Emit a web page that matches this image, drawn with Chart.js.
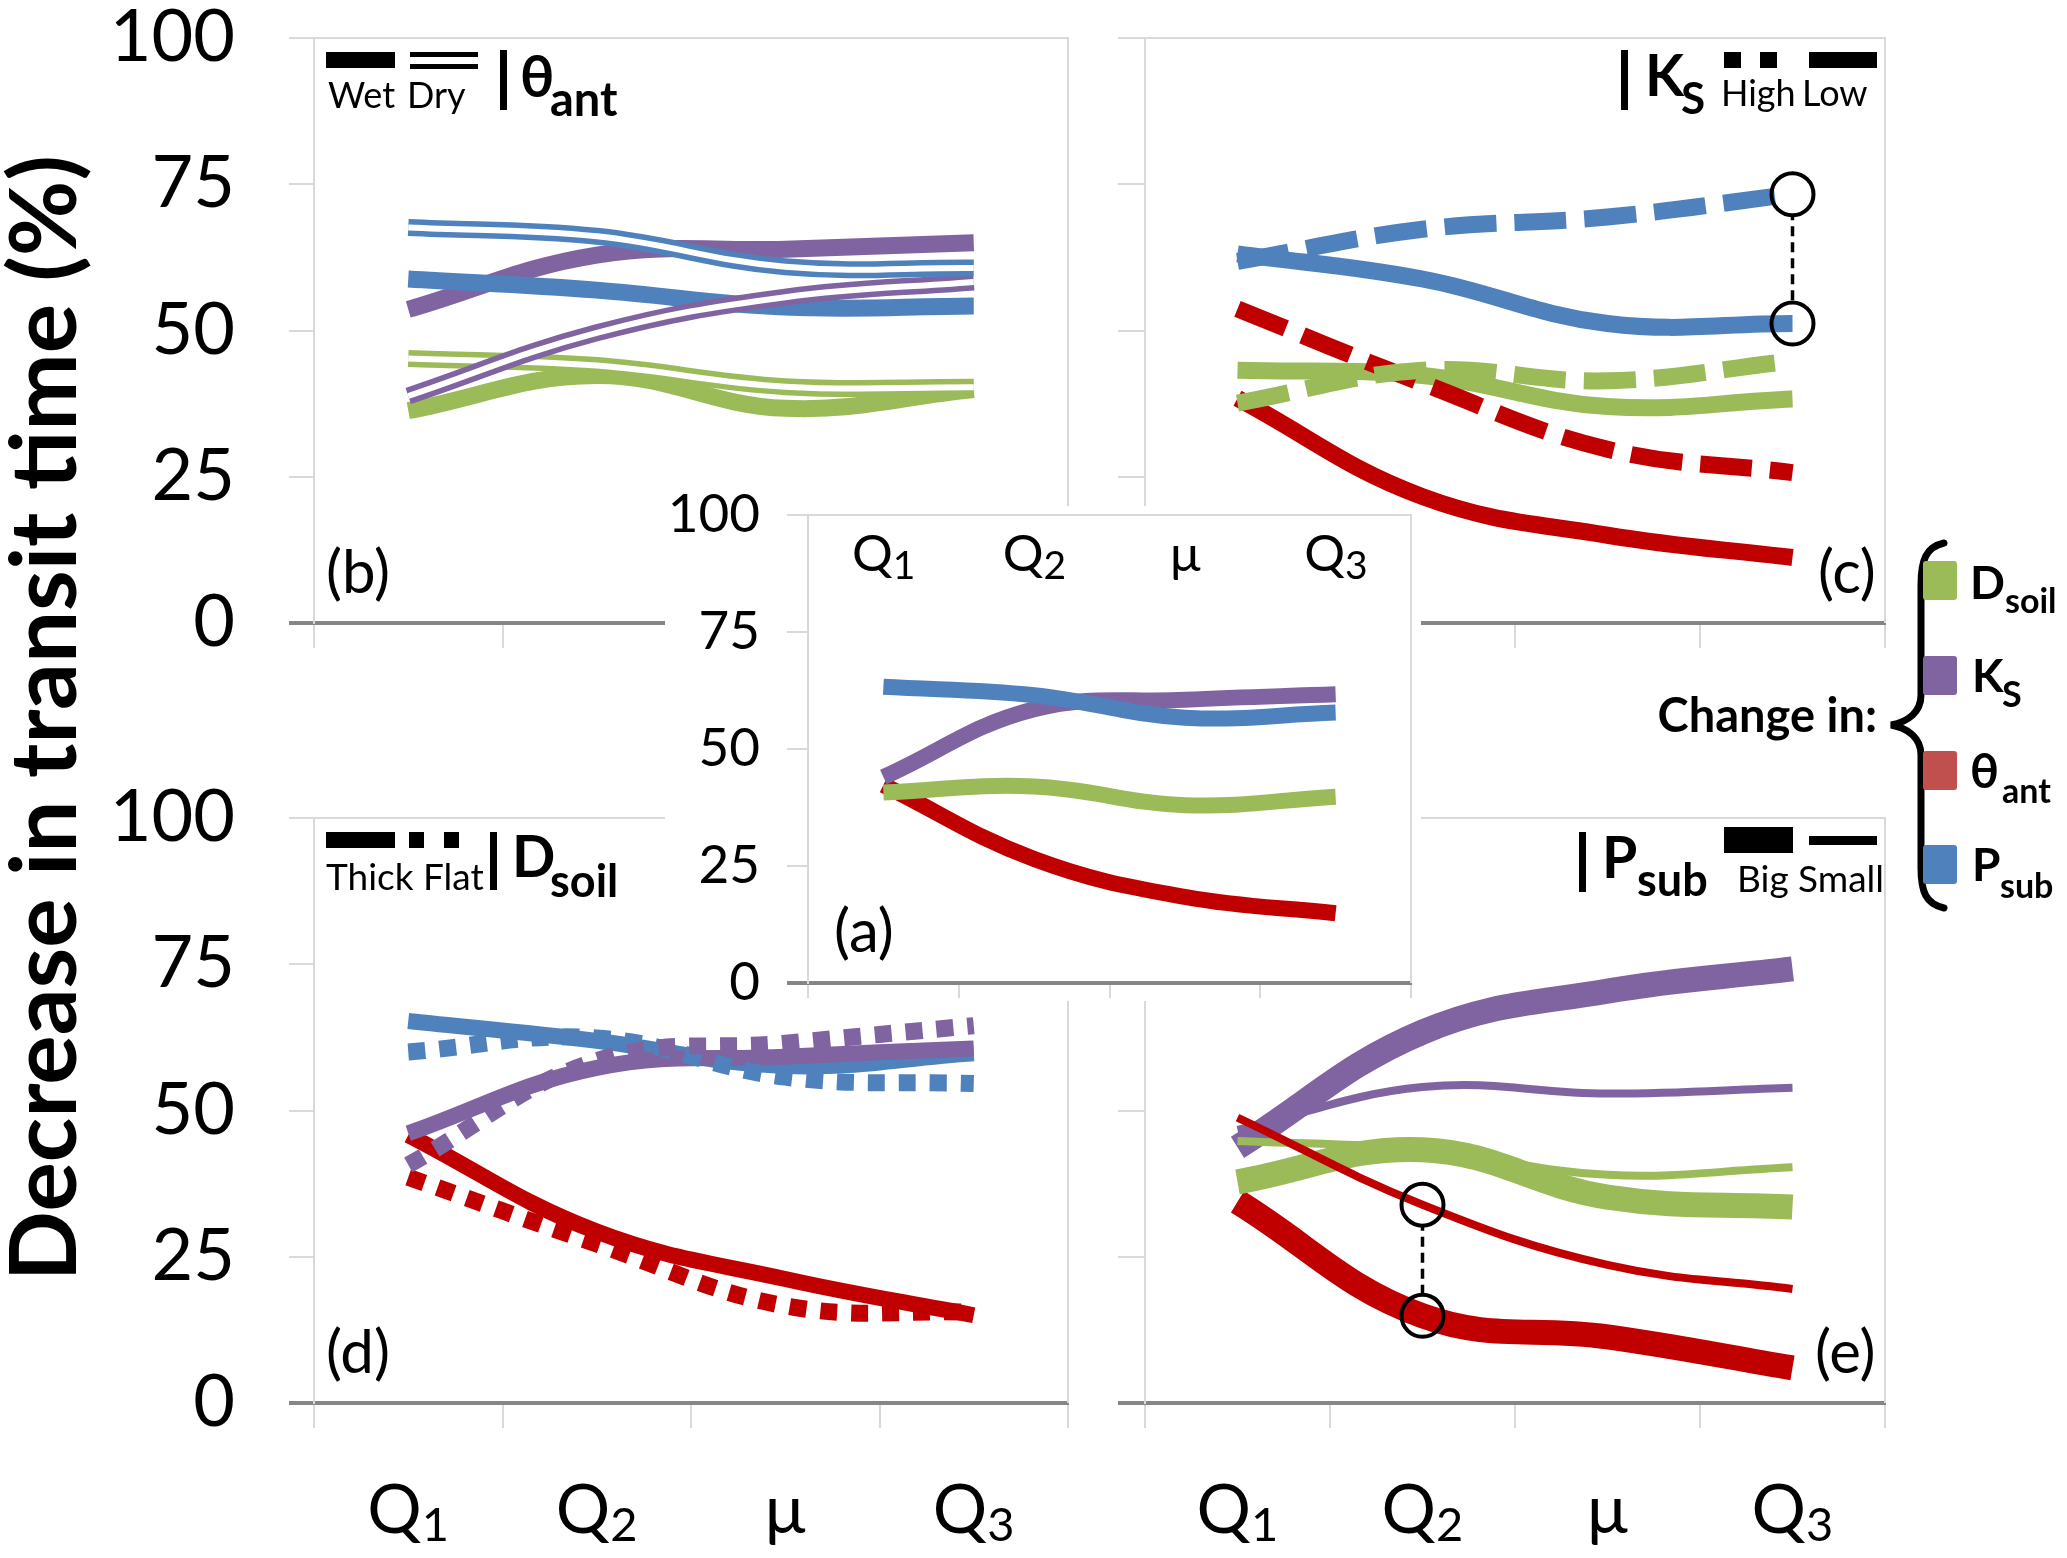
<!DOCTYPE html>
<html>
<head>
<meta charset="utf-8">
<script src="https://cdn.jsdelivr.net/npm/chart.js"></script>
<style>
  html, body { margin: 0; padding: 0; background: #fff; }
  #fig { position: relative; width: 2067px; height: 1558px; overflow: hidden; background: #fff;
         font-family: Lato, "Noto Sans", sans-serif; color: #000; }
  #fig canvas { position: absolute; }
  .t { position: absolute; line-height: 1; white-space: nowrap; }
  .blk { position: absolute; background: #000; }
  .sw { position: absolute; width: 34px; height: 39px; border-radius: 3px; }
  #whiteBox { position: absolute; left: 665px; top: 506px; width: 756px; height: 495px; background: #fff; }
</style>
</head>
<body>
<div id="fig">
  <canvas id="chartB"></canvas>
  <canvas id="chartC"></canvas>
  <canvas id="chartD"></canvas>
  <canvas id="chartE"></canvas>
  <div id="whiteBox"></div>
  <canvas id="chartA"></canvas>
  <svg width="2067" height="1558" style="position:absolute;left:0;top:0;pointer-events:none">
    <path d="M1944,543 C1926,547 1921,560 1921,585 L1921,695 C1921,712 1908,722 1891,725 C1908,728 1921,738 1921,755 L1921,868 C1921,892 1926,904 1944,908"
          fill="none" stroke="#000" stroke-width="7" stroke-linecap="round"/>
  </svg>
</div>
<script>
// categories on every x axis (first letter normal, rest written as subscript)
const CATS = ['Q1', 'Q2', '\u03bc', 'Q3'];
const Y_MIN = 0, Y_MAX = 100, Y_STEP = 25;

// (a) reference case
const aDsoil = [40.7, 42.0, 38.0, 39.8];
const aKs    = [44.0, 58.5, 60.5, 61.7];
const aTheta = [42.3, 26.5, 18.4, 14.9];
const aPsub  = [63.3, 61.5, 56.7, 57.8];

// (b) theta_ant: wet (thick) / dry (double)
const bWetDsoil = [36.3, 42.3, 36.7, 39.9];
const bDryDsoil = [45.2, 44.0, 40.4, 40.3];
const bWetKs    = [53.6, 62.9, 63.9, 65.0];
const bDryKs    = [38.8, 49.6, 55.7, 58.3];
const bWetPsub  = [58.8, 56.9, 54.0, 54.2];
const bDryPsub  = [67.6, 66.1, 60.9, 60.7];

// (c) Ks: high (dashed) / low (solid)
const cHighDsoil = [37.6, 43.2, 41.4, 44.8];
const cLowDsoil  = [43.2, 42.3, 37.0, 38.3];
const cHighTheta = [53.7, 41.0, 29.7, 25.7];
const cLowTheta  = [38.4, 21.6, 15.0, 11.2];
const cHighPsub  = [61.8, 67.3, 69.4, 73.3];
const cLowPsub   = [63.1, 58.8, 51.2, 51.2];

// (d) Dsoil: thick (solid) / flat (dotted)
const dThickKs    = [46.1, 57.3, 59.2, 60.6];
const dFlatKs     = [40.7, 58.5, 61.5, 64.5];
const dThickTheta = [45.8, 29.3, 21.2, 15.0];
const dFlatTheta  = [38.6, 27.2, 16.6, 15.5];
const dThickPsub  = [65.3, 61.9, 57.6, 59.8];
const dFlatPsub   = [60.0, 62.4, 55.7, 54.6];

// (e) Psub: big (thick) / small (thin)
const eBigDsoil   = [37.8, 43.3, 35.2, 33.5];
const eSmallDsoil = [44.8, 43.3, 39.0, 40.3];
const eBigKs      = [43.7, 63.4, 70.4, 74.2];
const eSmallKs    = [46.7, 54.0, 52.9, 53.9];
const eBigTheta   = [34.4, 14.9, 11.3, 6.0];
const eSmallTheta = [48.8, 33.9, 23.6, 19.5];

const GREEN = '#9BBB59', PURPLE = '#8064A2', RED = '#C00000', BLUE = '#4F81BD';
const GRID = '#D9D9D9', AXIS = '#868686';
const FONT = 'Lato, "Noto Sans", sans-serif';

const line = (data, color, width, dash) => ({
  data, borderColor: color, borderWidth: width, borderDash: dash || [], pointRadius: 0
});
const ring = pts => ({ data: pts, showLine: false, pointRadius: 21, pointBorderWidth: 4,
  pointBorderColor: '#000', pointBackgroundColor: 'rgba(0,0,0,0)' });
const ringFill = pts => ({ data: pts, showLine: false, pointRadius: 21, pointBorderWidth: 0,
  pointBackgroundColor: '#fff' });
const link = pts => ({ data: pts, borderColor: '#000', borderWidth: 3.5, borderDash: [10, 6],
  pointRadius: 0, tension: 0 });

// light frame on top / right of the plot area
const frame = {
  id: 'frame',
  beforeDatasetsDraw(chart) {
    const { ctx, chartArea: a } = chart;
    ctx.save();
    ctx.strokeStyle = GRID;
    ctx.lineWidth = 2;
    ctx.beginPath();
    ctx.moveTo(a.left, a.top);
    ctx.lineTo(a.right, a.top);
    ctx.lineTo(a.right, a.bottom);
    ctx.stroke();
    ctx.restore();
  }
};

function noPad(s) { s.paddingTop = 0; s.paddingBottom = 0; s.paddingLeft = 0; s.paddingRight = 0; }

function buildPanel(id, cv, area, datasets, opt) {
  const el = document.getElementById(id);
  el.width = cv.w; el.height = cv.h;
  el.style.left = cv.x + 'px'; el.style.top = cv.y + 'px';
  el.style.width = cv.w + 'px'; el.style.height = cv.h + 'px';
  const yW = area.l - cv.x;
  const xH = cv.y + cv.h - area.b;
  const scales = {
    x: {
      type: 'category', offset: true,
      grid: { offset: true, drawOnChartArea: false, color: GRID, lineWidth: 2, tickLength: opt.xTickLen },
      border: { color: AXIS, width: 4 },
      ticks: { display: false },
      afterFit: s => { s.height = xH; noPad(s); }
    },
    y: {
      min: Y_MIN, max: Y_MAX,
      grid: { drawOnChartArea: false, tickLength: opt.yTickLen, color: GRID, lineWidth: 2,
              tickColor: c => (c.tick && c.tick.value === 0) ? AXIS : GRID,
              tickWidth: c => (c.tick && c.tick.value === 0) ? 4 : 2 },
      border: { color: GRID, width: 2 },
      ticks: { stepSize: Y_STEP, display: !!opt.yFont, color: '#000',
               font: { family: FONT, size: opt.yFont || 10 }, padding: opt.yPad || 0 },
      afterFit: s => { s.width = yW; noPad(s); }
    }
  };
  const chart = new Chart(el, {
    type: 'line',
    data: { labels: CATS, datasets },
    options: {
      responsive: false, animation: false, devicePixelRatio: 1,
      layout: { padding: { top: area.t - cv.y, right: cv.x + cv.w - area.r, left: 0, bottom: 0 } },
      plugins: { legend: { display: false }, tooltip: { enabled: false } },
      elements: { point: { radius: 0 }, line: { tension: 0.4, borderCapStyle: 'butt', fill: false } },
      scales
    },
    plugins: [frame]
  });
  chart.$origin = cv;
  return chart;
}

const W = 17;       // normal line width
const DASH = [52, 18], DOT = [17, 14];

// (b)
const chartB = buildPanel('chartB', { x: 90, y: -40, w: 990, h: 740 }, { l: 314, t: 38, r: 1068, b: 623 }, [
  line(bDryPsub, '#fff', 6), line(bDryPsub, BLUE, 17),
  line(bDryKs, '#fff', 6), line(bDryKs, PURPLE, 17),
  line(bDryDsoil, '#fff', 6), line(bDryDsoil, GREEN, 17),
  line(bWetPsub, BLUE, W), line(bWetKs, PURPLE, W), line(bWetDsoil, GREEN, W)
], { xTickLen: 25, yTickLen: 25, yFont: 72, yPad: 54 });

// (c)
const cRings = [{ x: CATS[3], y: cHighPsub[3] }, { x: CATS[3], y: cLowPsub[3] }];
const chartC = buildPanel('chartC', { x: 1100, y: -40, w: 810, h: 740 }, { l: 1145, t: 38, r: 1898, b: 623 }, [
  ring(cRings),
  line(cHighPsub, BLUE, W, DASH), line(cLowPsub, BLUE, W),
  line(cHighDsoil, GREEN, W, DASH), line(cHighTheta, RED, W, DASH),
  line(cLowDsoil, GREEN, W), line(cLowTheta, RED, W),
  ringFill(cRings), link(cRings)
], { xTickLen: 25, yTickLen: 27 });

// (d)
const chartD = buildPanel('chartD', { x: 90, y: 740, w: 990, h: 818 }, { l: 314, t: 818, r: 1068, b: 1403 }, [
  line(dFlatKs, PURPLE, W, DOT), line(dFlatPsub, BLUE, W, DOT), line(dFlatTheta, RED, W, DOT),
  line(dThickKs, PURPLE, 16), line(dThickPsub, BLUE, 16), line(dThickTheta, RED, 16)
], { xTickLen: 25, yTickLen: 25, yFont: 72, yPad: 54 });

// (e)
const eRings = [{ x: CATS[1], y: eSmallTheta[1] }, { x: CATS[1], y: eBigTheta[1] }];
const chartE = buildPanel('chartE', { x: 1100, y: 740, w: 810, h: 818 }, { l: 1145, t: 818, r: 1898, b: 1403 }, [
  ring(eRings),
  line(eSmallTheta, RED, 8), line(eSmallKs, PURPLE, 8), line(eSmallDsoil, GREEN, 8),
  line(eBigKs, PURPLE, 25), line(eBigDsoil, GREEN, 25), line(eBigTheta, RED, 25),
  ringFill(eRings), link(eRings)
], { xTickLen: 25, yTickLen: 27 });

// (a) inset
const chartA = buildPanel('chartA', { x: 665, y: 470, w: 756, h: 540 }, { l: 808, t: 515, r: 1411, b: 983 }, [
  line(aPsub, BLUE, 16), line(aKs, PURPLE, 16), line(aDsoil, GREEN, 16), line(aTheta, RED, 16)
], { xTickLen: 15, yTickLen: 21, yFont: 53, yPad: 27 });

// ---- text overlays ----
const fig = document.getElementById('fig');
const mctx = document.createElement('canvas').getContext('2d');
mctx.font = '100px Lato';
const mm = mctx.measureText('Hg');
const ASC = mm.fontBoundingBoxAscent / 100, DSC = mm.fontBoundingBoxDescent / 100;
const BASE = (1 - (ASC + DSC)) / 2 + ASC;   // baseline offset for line-height 1

function txt(s, x, base, size, bold, alignRight) {
  const d = document.createElement('div');
  d.className = 't';
  d.textContent = s;
  d.style.fontSize = size + 'px';
  d.style.fontWeight = bold ? '700' : '400';
  d.style.top = (base - BASE * size) + 'px';
  if (alignRight) d.style.right = (2067 - x) + 'px'; else d.style.left = x + 'px';
  fig.appendChild(d);
  return d;
}
function blk(x, y, w, h) {
  const d = document.createElement('div');
  d.className = 'blk';
  Object.assign(d.style, { left: x + 'px', top: y + 'px', width: w + 'px', height: h + 'px' });
  fig.appendChild(d);
}
function swatch(x, y, color) {
  const d = document.createElement('div');
  d.className = 'sw';
  Object.assign(d.style, { left: x + 'px', top: y + 'px', background: color });
  fig.appendChild(d);
}

// category labels, centred on the category positions of each chart's x scale
function catLabels(chart, base, size, subSize, drop) {
  const sc = chart.scales.x;
  CATS.forEach((lab, i) => {
    const d = document.createElement('div');
    d.className = 't';
    d.style.fontSize = size + 'px';
    d.textContent = lab.slice(0, 1);
    if (lab.length > 1) {
      const s = document.createElement('span');
      s.textContent = lab.slice(1);
      s.style.fontSize = subSize + 'px';
      s.style.position = 'relative';
      s.style.top = drop + 'px';
      d.appendChild(s);
    }
    fig.appendChild(d);
    const x = chart.$origin.x + sc.getPixelForTick(i);
    d.style.left = (x - d.offsetWidth / 2) + 'px';
    d.style.top = (base - BASE * size) + 'px';
  });
}
catLabels(chartD, 1534, 68, 47, 8);
catLabels(chartE, 1534, 68, 47, 8);
catLabels(chartA, 571, 51, 39, 8);

// (b) legend
blk(326, 52, 69, 16);
blk(410, 52, 68, 5); blk(410, 64, 68, 5);
blk(500, 50, 7, 60);
txt('\u03b8', 520, 98, 57, true);
txt('ant', 550, 117, 47, true);
txt('Wet', 328, 108, 36);
txt('Dry', 407, 108, 36);

// (c) legend
blk(1621, 50, 7, 60);
txt('K', 1645, 97, 57, true);
txt('S', 1681, 114, 44, true);
blk(1724, 52, 17, 16); blk(1760, 52, 17, 16);
blk(1809, 52, 68, 16);
txt('High', 1721, 106, 36);
txt('Low', 1802, 106, 36);

// (d) legend
blk(326, 832, 69, 16);
blk(409, 832, 15, 16); blk(444, 832, 15, 16);
blk(490, 832, 7, 58);
txt('D', 512, 878, 57, true);
txt('soil', 550, 898, 45, true);
txt('Thick Flat', 326, 890, 37);

// (e) legend
blk(1579, 832, 7, 60);
txt('P', 1602, 879, 57, true);
txt('sub', 1637, 897, 45, true);
blk(1724, 827, 69, 26);
blk(1809, 836, 68, 9);
txt('Big Small', 1737, 892, 37);

// panel letters
txt('(b)', 326, 593, 60);
txt('(c)', 1818, 593, 60);
txt('(d)', 326, 1373, 60);
txt('(e)', 1815, 1373, 60);
txt('(a)', 834, 952, 60);

// right-hand legend
swatch(1923, 561, GREEN);
swatch(1923, 656, PURPLE);
swatch(1923, 751, '#C0504D');
swatch(1923, 845, BLUE);
txt('D', 1970, 600, 46, true);   txt('soil', 2005, 613, 34, true);
txt('K', 1972, 693, 46, true);   txt('S', 2002, 707, 36, true);
txt('\u03b8', 1970, 789, 48, true); txt('ant', 2002, 803, 34, true);
txt('P', 1972, 882, 46, true);   txt('sub', 2000, 898, 34, true);
txt('Change in:', 1877, 733, 47, true, true);

// y-axis title, fitted to its length in the figure
(function () {
  const d = document.createElement('div');
  d.className = 't';
  d.textContent = 'Decrease in transit time (%)';
  d.style.fontWeight = '700';
  d.style.fontSize = '100px';
  fig.appendChild(d);
  const size = 100 * 1126 / d.offsetWidth;
  d.style.fontSize = size + 'px';
  const w = d.offsetWidth, h = d.offsetHeight;
  const cx = 77 - (BASE * size - h / 2), cy = 718;
  d.style.left = (cx - w / 2) + 'px';
  d.style.top = (cy - h / 2) + 'px';
  d.style.transform = 'rotate(-90deg)';
})();
</script>
</body>
</html>
